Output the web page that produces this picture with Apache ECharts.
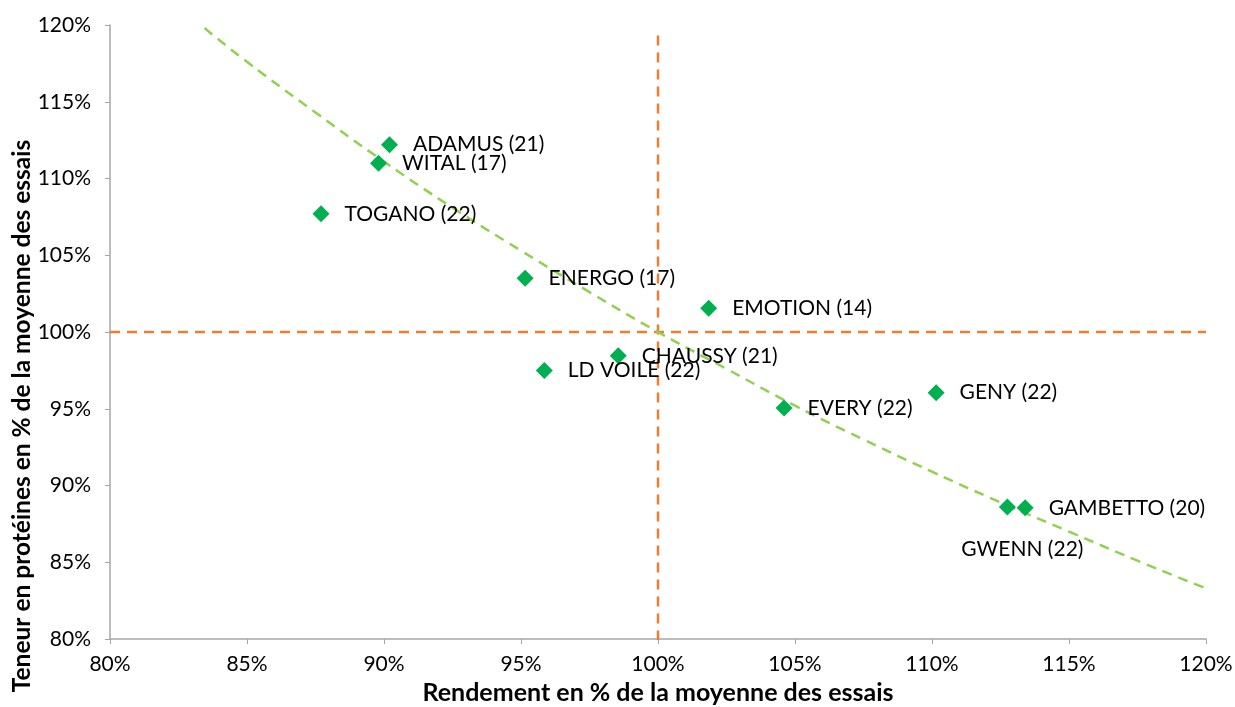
<!DOCTYPE html>
<html>
<head>
<meta charset="utf-8">
<script src="https://cdn.jsdelivr.net/npm/echarts@6/dist/echarts.min.js"></script>
<style>html,body{margin:0;padding:0;background:#fff;}#c{width:1235px;height:707px;}</style>
</head>
<body>
<div id="c"></div>
<script>
const varieties = ["ADAMUS (21)","WITAL (17)","TOGANO (22)","ENERGO (17)","EMOTION (14)","CHAUSSY (21)","LD VOILE (22)","EVERY (22)","GENY (22)","GWENN (22)","GAMBETTO (20)"];
const rendement = [90.2, 89.8, 87.7, 95.15, 101.85, 98.55, 95.85, 104.6, 110.15, 112.75, 113.4];
const proteines = [112.2, 111.0, 107.7, 103.5, 101.55, 98.45, 97.5, 95.05, 96.05, 88.6, 88.55];
const trendX = [83.45, 85, 87.5, 90, 92.5, 95, 97.5, 100, 102.5, 105, 107.5, 110, 112.5, 115, 117.5, 120];
const trendY = [119.8, 117.6, 114.3, 111.1, 108.1, 105.3, 102.6, 100, 97.6, 95.2, 93.0, 90.9, 88.9, 87.0, 85.1, 83.3];
const refX = [100, 100];
const refXY = [79.9, 119.4];
const refYX = [80, 120];
const refY = [100, 100];
const xTitle = 'Rendement en % de la moyenne des essais';
const yTitle = 'Teneur en protéines en % de la moyenne des essais';

const font = 'Lato, "Open Sans", sans-serif';
const scatterData = varieties.map((n, i) => ({
  value: [rendement[i], proteines[i]],
  name: n,
  label: n === "GWENN (22)" ? {position: 'bottom', offset: [15, 8]} : undefined
}));

const chart = echarts.init(document.getElementById('c'));
chart.setOption({
  animation: false,
  grid: {left: 110, right: 29, top: 25, bottom: 68, outerBoundsMode: 'none', containLabel: false},
  graphic: [{
    type: 'text', x: 22, y: 416, rotation: Math.PI / 2,
    style: {text: yTitle, fontFamily: font, fontWeight: 'bold', fontSize: 24.5, fill: '#000',
      align: 'center', verticalAlign: 'middle'}
  }],
  xAxis: {
    type: 'value', min: 80, max: 120, interval: 5,
    name: xTitle, nameLocation: 'middle', nameGap: 41,
    nameTextStyle: {fontFamily: font, fontWeight: 'bold', fontSize: 25, color: '#000'},
    axisLine: {lineStyle: {color: '#A6A6A6', width: 1.5}},
    axisTick: {show: true, length: 5, lineStyle: {color: '#A6A6A6'}},
    splitLine: {show: false},
    axisLabel: {formatter: v => v + '%', fontFamily: font, fontSize: 21, color: '#000', margin: 15}
  },
  yAxis: {
    type: 'value', min: 80, max: 120, interval: 5,
    axisLine: {show: true, lineStyle: {color: '#A6A6A6', width: 1.5}},
    axisTick: {show: true, length: 5, lineStyle: {color: '#A6A6A6'}},
    splitLine: {show: false},
    axisLabel: {formatter: v => v + '%', fontFamily: font, fontSize: 21, color: '#000', margin: 19}
  },
  series: [
    {
      type: 'line', data: trendX.map((x, i) => [x, trendY[i]]), smooth: true, symbol: 'none',
      lineStyle: {color: '#92D050', width: 2.5, type: [10, 7]}, z: 2, silent: true
    },
    {
      type: 'line', data: refX.map((x, i) => [x, refXY[i]]), symbol: 'none',
      lineStyle: {color: '#ED7D31', width: 2.5, type: [10, 7]}, z: 1, silent: true
    },
    {
      type: 'line', data: refYX.map((x, i) => [x, refY[i]]), symbol: 'none',
      lineStyle: {color: '#ED7D31', width: 2.5, type: [10, 7]}, z: 1, silent: true
    },
    {
      type: 'scatter', data: scatterData, symbol: 'diamond', symbolSize: 17,
      itemStyle: {color: '#00B050', opacity: 1}, z: 5,
      label: {show: true, position: 'right', distance: 15, formatter: p => p.name,
        fontFamily: font, fontSize: 21, color: '#000'}
    }
  ]
});
</script>
</body>
</html>
